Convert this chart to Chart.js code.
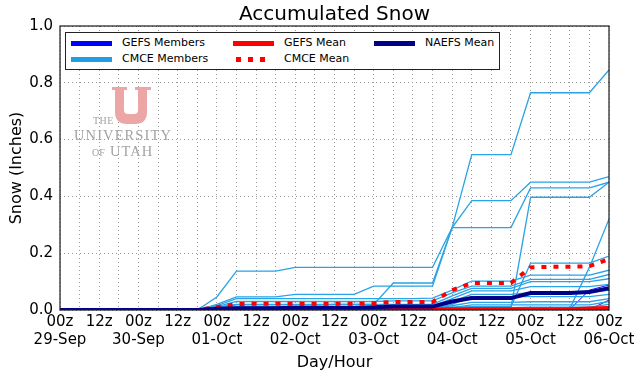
<!DOCTYPE html>
<html>
<head>
<meta charset="utf-8">
<title>Accumulated Snow</title>
<script src="https://cdn.jsdelivr.net/npm/chart.js@4.4.0/dist/chart.umd.min.js"></script>
<style>
  html, body { margin: 0; padding: 0; background: #fff; }
  #wrap { position: relative; width: 640px; height: 378px; overflow: hidden; }
  #snowChart { position: absolute; left: 0; top: 0; }
  #logo { position: absolute; left: 70px; top: 83px; pointer-events: none; }
  #legendBox {
    position: absolute; left: 65px; top: 32px; width: 435px; height: 38px;
    box-sizing: border-box; background: #fff; border: 1px solid #222;
    font-family: "DejaVu Sans", sans-serif; font-size: 11px; color: #000;
  }
  .item { position: absolute; height: 14px; line-height: 14px; white-space: nowrap; }
  .sw { position: absolute; left: 0; top: 5px; width: 41px; height: 5px; }
  .item span { position: absolute; left: 51px; top: 0; }
</style>
</head>
<body>
<div id="wrap">
  <canvas id="snowChart" width="640" height="378"></canvas>

  <svg id="logo" width="110" height="80" viewBox="0 0 110 80">
    <!-- block U -->
    <path d="M42,4 H57 V7 H54 V27 Q54,31 58,31 H64 Q68,31 68,27 V7 H65 V4 H81 V7 H77 V29 Q77,41 65,41 H57 Q45,41 45,29 V7 H42 Z"
          fill="#eda6a6"/>
    <text x="23" y="41" font-family="Liberation Serif, serif" font-size="10" fill="#a3a3a3" letter-spacing="0.5">THE</text>
    <text x="4" y="57" font-family="Liberation Serif, serif" font-size="14.5" fill="#a3a3a3" letter-spacing="1.1">UNIVERSITY</text>
    <text x="22" y="73" font-family="Liberation Serif, serif" font-size="10" fill="#a3a3a3">OF</text>
    <text x="40" y="73" font-family="Liberation Serif, serif" font-size="14.5" fill="#a3a3a3" letter-spacing="1">UTAH</text>
  </svg>

  <div id="legendBox">
    <div class="item" style="left:5px;top:3px"><div class="sw" style="background:#0000ff"></div><span>GEFS Members</span></div>
    <div class="item" style="left:5px;top:19px"><div class="sw" style="background:#1e9fe4"></div><span>CMCE Members</span></div>
    <div class="item" style="left:167px;top:3px"><div class="sw" style="background:#ff0000"></div><span>GEFS Mean</span></div>
    <div class="item" style="left:167px;top:19px"><div class="sw" style="left:3px;width:33px;background:repeating-linear-gradient(to right,#ff0000 0 5px,transparent 5px 12px)"></div><span>CMCE Mean</span></div>
    <div class="item" style="left:308px;top:3px"><div class="sw" style="background:#000088"></div><span>NAEFS Mean</span></div>
  </div>
</div>

<script>
// forecast hour from 00z 29-Sep, every 6 h
const hours = [0, 6, 12, 18, 24, 30, 36, 42, 48, 54, 60, 66, 72, 78, 84, 90, 96, 102, 108, 114, 120, 126, 132, 138, 144, 150, 156, 162, 168];
const dayLabels = ["29-Sep", "30-Sep", "01-Oct", "02-Oct", "03-Oct", "04-Oct", "05-Oct", "06-Oct"];
const hourLabels = ["00z", "12z"];
const yTicks = [0.0, 0.2, 0.4, 0.6, 0.8, 1.0];

// CMCE members (inches)
const cmce1 = [0, 0, 0, 0, 0, 0, 0, 0, 0.046, 0.137, 0.137, 0.137, 0.15, 0.15, 0.15, 0.15, 0.15, 0.15, 0.15, 0.15, 0.29, 0.547, 0.547, 0.547, 0.765, 0.765, 0.765, 0.765, 0.845];
const cmce2 = [0, 0, 0, 0, 0, 0, 0, 0, 0.02, 0.046, 0.046, 0.046, 0.055, 0.055, 0.055, 0.055, 0.084, 0.084, 0.084, 0.084, 0.29, 0.385, 0.385, 0.385, 0.45, 0.45, 0.45, 0.45, 0.47];
const cmce3 = [0, 0, 0, 0, 0, 0, 0, 0, 0.01, 0.02, 0.02, 0.02, 0.02, 0.02, 0.02, 0.02, 0.02, 0.095, 0.095, 0.095, 0.29, 0.29, 0.29, 0.29, 0.43, 0.43, 0.43, 0.43, 0.45];
const cmce4 = [0, 0, 0, 0, 0, 0, 0, 0, 0.002, 0.005, 0.005, 0.005, 0.005, 0.005, 0.005, 0.005, 0.005, 0.005, 0.005, 0.005, 0.006, 0.008, 0.008, 0.008, 0.397, 0.397, 0.397, 0.397, 0.45];
const cmce5 = [0, 0, 0, 0, 0, 0, 0, 0, 0.001, 0.003, 0.003, 0.003, 0.003, 0.003, 0.003, 0.003, 0.003, 0.003, 0.003, 0.003, 0.004, 0.005, 0.005, 0.005, 0.005, 0.005, 0.005, 0.15, 0.32];
const cmce6 = [0, 0, 0, 0, 0, 0, 0, 0, 0.003, 0.008, 0.008, 0.008, 0.008, 0.008, 0.008, 0.008, 0.008, 0.008, 0.008, 0.008, 0.01, 0.012, 0.012, 0.012, 0.165, 0.165, 0.165, 0.165, 0.19];
const cmce7 = [0, 0, 0, 0, 0, 0, 0, 0, 0.015, 0.04, 0.04, 0.04, 0.04, 0.04, 0.04, 0.04, 0.04, 0.04, 0.04, 0.042, 0.07, 0.102, 0.102, 0.102, 0.123, 0.123, 0.123, 0.123, 0.14];
const cmce8 = [0, 0, 0, 0, 0, 0, 0, 0, 0.012, 0.03, 0.03, 0.03, 0.03, 0.03, 0.03, 0.03, 0.03, 0.032, 0.032, 0.032, 0.06, 0.084, 0.084, 0.084, 0.108, 0.108, 0.108, 0.108, 0.125];
const cmce9 = [0, 0, 0, 0, 0, 0, 0, 0, 0.008, 0.018, 0.018, 0.018, 0.018, 0.018, 0.02, 0.02, 0.02, 0.02, 0.02, 0.02, 0.05, 0.076, 0.076, 0.076, 0.1, 0.1, 0.1, 0.1, 0.11];
const cmce10 = [0, 0, 0, 0, 0, 0, 0, 0, 0.005, 0.012, 0.012, 0.012, 0.012, 0.012, 0.012, 0.012, 0.012, 0.014, 0.014, 0.014, 0.04, 0.067, 0.067, 0.067, 0.082, 0.082, 0.082, 0.082, 0.09];
const cmce11 = [0, 0, 0, 0, 0, 0, 0, 0, 0.003, 0.008, 0.008, 0.008, 0.008, 0.008, 0.008, 0.008, 0.008, 0.008, 0.008, 0.008, 0.03, 0.055, 0.055, 0.055, 0.061, 0.061, 0.061, 0.061, 0.07];
const cmce12 = [0, 0, 0, 0, 0, 0, 0, 0, 0.002, 0.005, 0.005, 0.005, 0.005, 0.005, 0.005, 0.005, 0.005, 0.005, 0.005, 0.005, 0.02, 0.047, 0.047, 0.047, 0.047, 0.047, 0.047, 0.047, 0.055];
const cmce13 = [0, 0, 0, 0, 0, 0, 0, 0, 0.001, 0.004, 0.004, 0.004, 0.004, 0.004, 0.004, 0.004, 0.004, 0.004, 0.004, 0.004, 0.015, 0.027, 0.027, 0.027, 0.029, 0.029, 0.029, 0.029, 0.04];
const cmce14 = [0, 0, 0, 0, 0, 0, 0, 0, 0.001, 0.002, 0.002, 0.002, 0.002, 0.002, 0.002, 0.002, 0.002, 0.002, 0.002, 0.002, 0.008, 0.018, 0.018, 0.018, 0.018, 0.018, 0.018, 0.018, 0.03];
const cmce15 = [0, 0, 0, 0, 0, 0, 0, 0, 0, 0, 0, 0, 0, 0, 0, 0, 0, 0, 0, 0, 0.003, 0.008, 0.008, 0.008, 0.01, 0.01, 0.01, 0.01, 0.02];
const cmce16 = [0, 0, 0, 0, 0, 0, 0, 0, 0, 0, 0, 0, 0, 0, 0, 0, 0, 0, 0, 0, 0, 0.002, 0.002, 0.002, 0.003, 0.003, 0.003, 0.003, 0.012];

// GEFS members, nearly all dry
const gefs1 = [0, 0, 0, 0, 0, 0, 0, 0, 0, 0, 0, 0, 0, 0, 0, 0, 0, 0, 0, 0, 0, 0, 0, 0, 0, 0, 0.002, 0.07, 0.088];
const gefs2 = [0, 0, 0, 0, 0, 0, 0, 0, 0, 0, 0, 0, 0, 0, 0, 0, 0, 0, 0, 0, 0, 0, 0, 0, 0, 0, 0, 0.001, 0.035];
const gefs3 = [0, 0, 0, 0, 0, 0, 0, 0, 0, 0, 0, 0, 0, 0, 0, 0, 0, 0, 0, 0, 0.002, 0.002, 0.002, 0.002, 0.003, 0.003, 0.003, 0.003, 0.008];
const gefs4 = [0, 0, 0, 0, 0, 0, 0, 0, 0, 0, 0, 0, 0, 0, 0, 0, 0, 0, 0, 0, 0, 0, 0, 0, 0, 0, 0, 0, 0];

// ensemble means
const gefsMean = [0, 0, 0, 0, 0, 0, 0, 0, 0.001, 0.002, 0.002, 0.002, 0.002, 0.002, 0.002, 0.002, 0.002, 0.002, 0.002, 0.002, 0.003, 0.003, 0.003, 0.003, 0.003, 0.003, 0.003, 0.005, 0.007];
const cmceMean = [0, 0, 0, 0, 0, 0, 0, 0, 0.01, 0.021, 0.022, 0.022, 0.022, 0.022, 0.022, 0.022, 0.024, 0.028, 0.028, 0.028, 0.07, 0.095, 0.095, 0.095, 0.15, 0.152, 0.152, 0.154, 0.18];
const naefsMean = [0, 0, 0, 0, 0, 0, 0, 0, 0.004, 0.006, 0.006, 0.006, 0.008, 0.008, 0.008, 0.008, 0.01, 0.012, 0.012, 0.012, 0.03, 0.042, 0.042, 0.042, 0.06, 0.06, 0.06, 0.063, 0.077];

const cmceMembers = [cmce1, cmce2, cmce3, cmce4, cmce5, cmce6, cmce7, cmce8, cmce9, cmce10, cmce11, cmce12, cmce13, cmce14, cmce15, cmce16];
const gefsMembers = [gefs1, gefs2, gefs3, gefs4];

function toPoints(values) {
  return values.map((v, i) => ({ x: hours[i], y: v }));
}

function lineSet(label, values, color, width, order, dash) {
  return {
    label: label,
    data: toPoints(values),
    borderColor: color,
    borderWidth: width,
    borderDash: dash || [],
    pointRadius: 0,
    tension: 0,
    fill: false,
    clip: 0,
    order: order,
  };
}

const datasets = [];
gefsMembers.forEach((m, i) => datasets.push(lineSet("GEFS Members " + (i + 1), m, "#1010ff", 1, 5)));
cmceMembers.forEach((m, i) => datasets.push(lineSet("CMCE Members " + (i + 1), m, "#29a3e6", 1.3, 4)));
datasets.push(lineSet("GEFS Mean", gefsMean, "#ff0000", 4, 3));
datasets.push(lineSet("CMCE Mean", cmceMean, "#ff0000", 4, 2, [5, 7]));
datasets.push(lineSet("NAEFS Mean", naefsMean, "#000088", 4, 1));

// box round the plot, like the matplotlib axes
const framePlugin = {
  id: "frame",
  afterDatasetsDraw(chart) {
    const { ctx, chartArea: a } = chart;
    ctx.save();
    ctx.strokeStyle = "#1a1a1a";
    ctx.lineWidth = 1.2;
    ctx.strokeRect(a.left, a.top, a.right - a.left, a.bottom - a.top);
    ctx.restore();
  },
};

const font = "'DejaVu Sans', sans-serif";

const ctx = document.getElementById("snowChart").getContext("2d");
new Chart(ctx, {
  type: "line",
  data: { datasets: datasets },
  plugins: [framePlugin],
  options: {
    responsive: false,
    animation: false,
    layout: { padding: { left: 0, right: 31, top: 0, bottom: 0 } },
    plugins: {
      legend: { display: false },
      tooltip: { enabled: false },
      title: {
        display: true,
        fullSize: false,
        text: "Accumulated Snow",
        color: "#000",
        font: { family: font, size: 20, weight: "normal", lineHeight: 1.1 },
        padding: { top: 4, bottom: 0 },
      },
    },
    scales: {
      x: {
        type: "linear",
        min: hours[0],
        max: hours[hours.length - 1],
        afterFit: (scale) => { scale.height = 68; },
        ticks: {
          stepSize: 6,
          autoSkip: false,
          maxRotation: 0,
          padding: 3,
          color: "#000",
          font: { family: font, size: 15, lineHeight: 1.2 },
          callback: (v) => {
            if (v % 12 !== 0) return "";
            if (v % 24 === 0) return [hourLabels[0], dayLabels[v / 24]];
            return hourLabels[1];
          },
        },
        grid: { color: "#9a9a9a", lineWidth: 1, drawTicks: false },
        border: { display: false, dash: [1, 3] },
        title: {
          display: true,
          text: "Day/Hour",
          color: "#000",
          font: { family: font, size: 16, lineHeight: 1.2 },
          padding: { top: 0, bottom: 6 },
        },
      },
      y: {
        min: yTicks[0],
        max: yTicks[yTicks.length - 1],
        afterFit: (scale) => { scale.width = 60; },
        ticks: {
          stepSize: 0.2,
          padding: 7,
          color: "#000",
          font: { family: font, size: 15 },
          callback: (v) => v.toFixed(1),
        },
        grid: { color: "#9a9a9a", lineWidth: 1, drawTicks: false },
        border: { display: false, dash: [1, 3] },
        title: {
          display: true,
          text: "Snow (Inches)",
          color: "#000",
          font: { family: font, size: 16, lineHeight: 1.2 },
          padding: { top: 7, bottom: 0 },
        },
      },
    },
  },
});
</script>
</body>
</html>
